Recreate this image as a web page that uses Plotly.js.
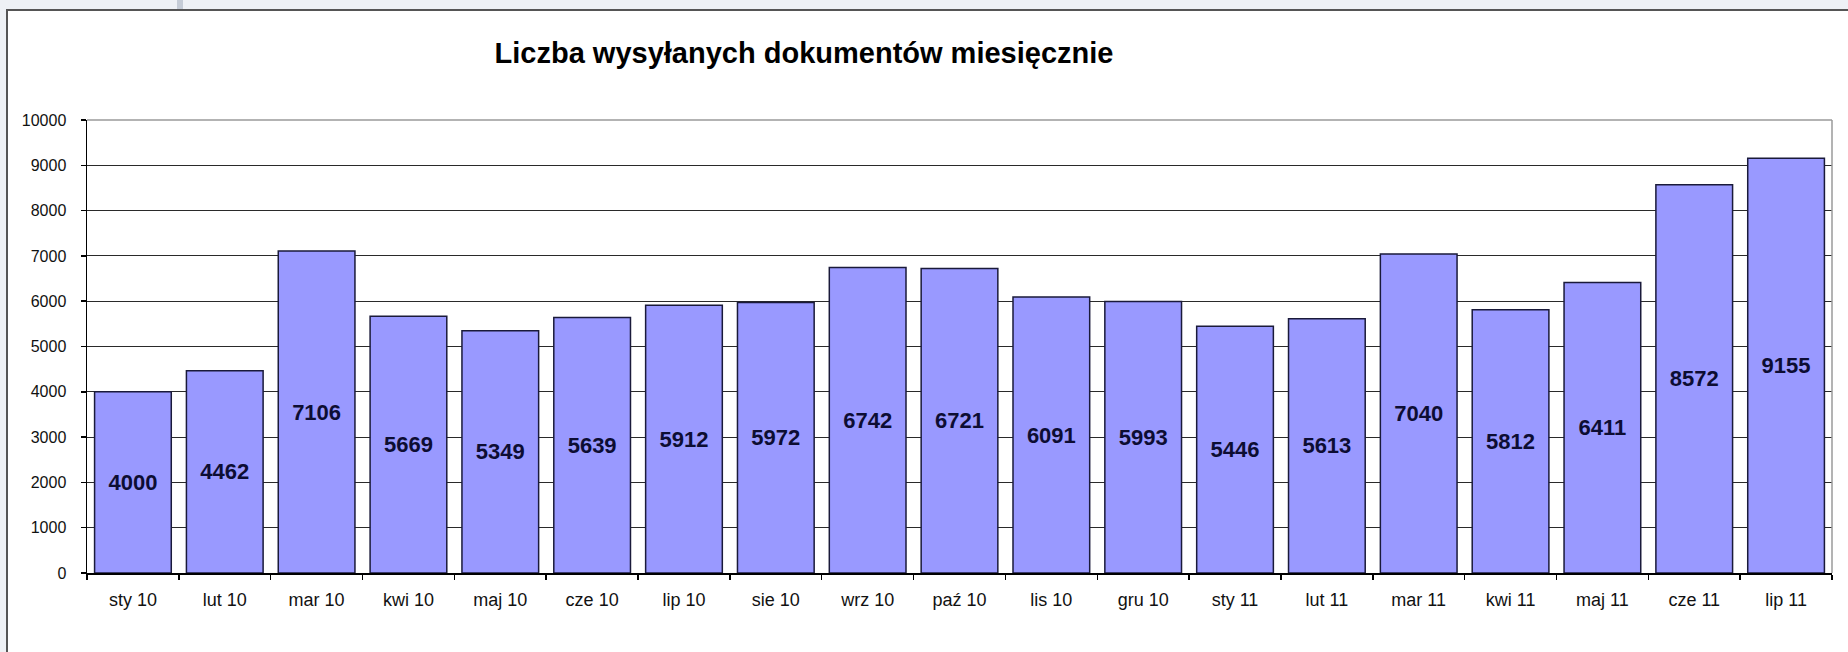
<!DOCTYPE html>
<html>
<head>
<meta charset="utf-8">
<script src="https://cdn.plot.ly/plotly-3.0.1.min.js"></script>
<style>
  html, body { margin: 0; padding: 0; background: #eef1f5; }
  #chart { width: 1848px; height: 652px; }
</style>
</head>
<body>
<div id="chart"></div>
<script>
const months = ["sty 10","lut 10","mar 10","kwi 10","maj 10","cze 10","lip 10","sie 10","wrz 10","paź 10","lis 10","gru 10","sty 11","lut 11","mar 11","kwi 11","maj 11","cze 11","lip 11"];
const documents = [4000,4462,7106,5669,5349,5639,5912,5972,6742,6721,6091,5993,5446,5613,7040,5812,6411,8572,9155];
const yTicks = [0,1000,2000,3000,4000,5000,6000,7000,8000,9000,10000];
const chartTitle = "Liczba wysyłanych dokumentów miesięcznie";

const FONT = "Liberation Sans, Arial, sans-serif";

// plot area in pixels: x 87..1832, y 120..573
const L = 87, R = 16, T = 120, B = 79, W = 1848, H = 652;
const pw = W - L - R, ph = H - T - B;
const px = v => (v - L) / pw;
const py = v => (H - B - v) / ph;

const trace = {
  type: "bar",
  x: months,
  y: documents,
  text: documents.map(String),
  textposition: "inside",
  insidetextanchor: "middle",
  textangle: 0,
  constraintext: "none",
  textfont: { family: FONT, size: 22, color: "#0d0d33", weight: "bold" },
  marker: { color: "#9999ff", line: { color: "#1a1a3a", width: 1.5 } },
  hoverinfo: "x+y"
};

const layout = {
  width: W, height: H,
  margin: { l: L, r: R, t: T, b: B, pad: 0 },
  paper_bgcolor: "#eef1f5",
  plot_bgcolor: "#ffffff",
  bargap: 0.165,
  showlegend: false,
  title: {
    text: "<b>" + chartTitle + "</b>",
    font: { family: FONT, size: 29, color: "#000000" },
    xref: "container", yref: "container",
    x: 804 / W, xanchor: "center",
    y: 1 - 53 / H, yanchor: "middle"
  },
  xaxis: {
    type: "category",
    tickson: "boundaries",
    ticks: "outside", ticklen: 5, tickcolor: "#000", tickwidth: 1.5,
    showline: true, linecolor: "#000", linewidth: 1.5,
    showgrid: false,
    tickfont: { family: FONT, size: 18, color: "#111" },
    ticklabelstandoff: 10
  },
  yaxis: {
    range: [0, 10000],
    tickvals: yTicks,
    ticktext: yTicks.map(String),
    ticks: "outside", ticklen: 5, tickcolor: "#000", tickwidth: 1.5,
    showline: true, linecolor: "#000", linewidth: 1.5,
    showgrid: true, gridcolor: "#2a2a2a", gridwidth: 1.2,
    zeroline: false,
    tickfont: { family: FONT, size: 16, color: "#111" },
    ticklabelstandoff: 11
  },
  shapes: [
    // chart frame
    { type: "rect", xref: "paper", yref: "paper", layer: "below",
      x0: px(7), x1: px(1870), y0: py(680), y1: py(10),
      fillcolor: "#ffffff", line: { color: "#555555", width: 2 } },
    // small mark above frame
    { type: "rect", xref: "paper", yref: "paper", layer: "below",
      x0: px(177), x1: px(183), y0: py(9), y1: py(-5),
      fillcolor: "#c5ccd6", line: { width: 0 } },
    // plot area top and right borders (gray)
    { type: "line", xref: "paper", yref: "paper", layer: "above",
      x0: 0, x1: 1, y0: 1, y1: 1, line: { color: "#9a9a9a", width: 1.5 } },
    { type: "line", xref: "paper", yref: "paper", layer: "above",
      x0: 1, x1: 1, y0: 0, y1: 1, line: { color: "#9a9a9a", width: 1.5 } }
  ]
};

Plotly.newPlot("chart", [trace], layout, { displayModeBar: false, staticPlot: true });
</script>
</body>
</html>
